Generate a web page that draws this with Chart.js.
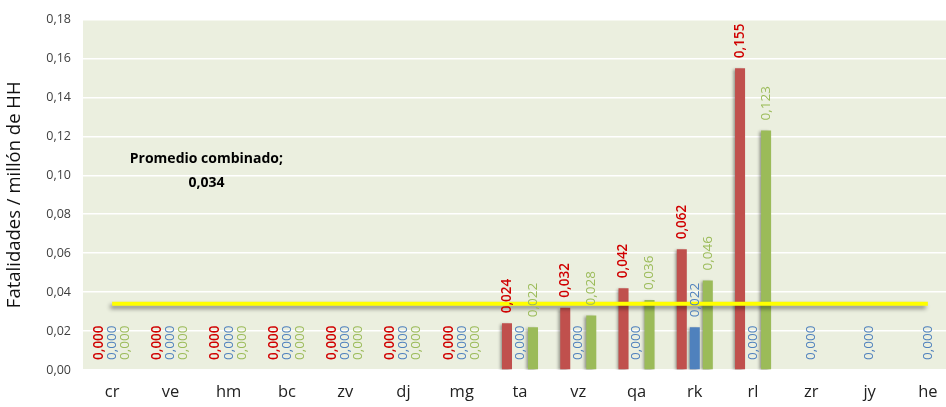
<!DOCTYPE html>
<html>
<head>
<meta charset="utf-8">
<script src="https://cdn.jsdelivr.net/npm/chart.js@4"></script>
<style>
  html, body { margin: 0; padding: 0; background: #fff; overflow: hidden; }
  #wrap { width: 946px; height: 407px; overflow: hidden; }
  #box { width: 957px; height: 407px; }
</style>
</head>
<body>
<div id="wrap"><div id="box"><canvas id="chart"></canvas></div></div>
<script>
const categories = ['cr', 've', 'hm', 'bc', 'zv', 'dj', 'mg', 'ta', 'vz', 'qa', 'rk', 'rl', 'zr', 'jy', 'he'];
const redValues   = [0, 0, 0, 0, 0, 0, 0, 0.024, 0.032, 0.042, 0.062, 0.155, null, null, null];
const blueValues  = [0, 0, 0, 0, 0, 0, 0, 0, 0, 0, 0.022, 0, 0, 0, 0];
const greenValues = [0, 0, 0, 0, 0, 0, 0, 0.022, 0.028, 0.036, 0.046, 0.123, null, null, null];
const averageValue = 0.034;
const averageLine = categories.map(() => averageValue);
const yTicks = [0, 0.02, 0.04, 0.06, 0.08, 0.10, 0.12, 0.14, 0.16, 0.18];

const fmt = (v, d) => v.toFixed(d).replace('.', ',');
const FONT = '"Open Sans", Lato, sans-serif';

// sombra para barras y linea
const shadowPlugin = {
  id: 'shadow',
  beforeDatasetDraw(chart, args) {
    const c = chart.ctx;
    c.save();
    if (args.meta.type === 'line') {
      c.shadowColor = 'rgba(0,0,0,0.45)';
      c.shadowBlur = 4;
      c.shadowOffsetX = -2;
      c.shadowOffsetY = 3;
    } else {
      c.shadowColor = 'rgba(0,0,0,0.4)';
      c.shadowBlur = 3;
      c.shadowOffsetX = -2;
      c.shadowOffsetY = 1;
    }
  },
  afterDatasetDraw(chart) {
    chart.ctx.restore();
  }
};

// etiquetas verticales sobre las barras
const labelPlugin = {
  id: 'barLabels',
  afterDatasetsDraw(chart) {
    const c = chart.ctx;
    chart.data.datasets.forEach((ds, i) => {
      if (ds.type === 'line') return;
      const meta = chart.getDatasetMeta(i);
      meta.data.forEach((bar, j) => {
        const v = ds.data[j];
        if (v === null || v === undefined) return;
        c.save();
        c.translate(bar.x, bar.y - 10);
        c.rotate(-Math.PI / 2);
        c.font = (ds.labelBold ? '600 ' : '') + '13.5px ' + FONT;
        c.fillStyle = ds.labelColor;
        c.textAlign = 'left';
        c.textBaseline = 'middle';
        c.fillText(fmt(v, 3), 0, 0);
        c.restore();
      });
    });
  }
};

// texto del promedio
const notePlugin = {
  id: 'note',
  afterDraw(chart) {
    const c = chart.ctx;
    const x = chart.scales.x.getPixelForValue(1) + 36;
    const y = chart.scales.y.getPixelForValue(0.1085);
    c.save();
    c.font = 'bold 14px ' + FONT;
    c.fillStyle = '#000';
    c.textAlign = 'center';
    c.textBaseline = 'middle';
    c.fillText('Promedio combinado;', x, y);
    c.fillText(fmt(averageValue, 3), x, y + 24);
    c.restore();
  }
};

const bgPlugin = {
  id: 'plotBg',
  beforeDraw(chart) {
    const a = chart.chartArea;
    const c = chart.ctx;
    c.save();
    c.fillStyle = '#EBEFDF';
    c.fillRect(a.left, a.top, a.right - a.left, a.bottom - a.top);
    c.restore();
  }
};

const barOpts = { categoryPercentage: 0.67, barPercentage: 0.77, order: 1 };

new Chart(document.getElementById('chart'), {
  data: {
    labels: categories,
    datasets: [
      { type: 'line', label: 'Promedio', data: averageLine, borderColor: '#FFFF00', borderWidth: 4,
        pointRadius: 0, fill: false, order: 0 },
      Object.assign({ type: 'bar', label: 'A', data: redValues, backgroundColor: '#C0504D',
        labelColor: '#D00000', labelBold: true }, barOpts),
      Object.assign({ type: 'bar', label: 'B', data: blueValues, backgroundColor: '#4F81BD',
        labelColor: '#4F81BD' }, barOpts),
      Object.assign({ type: 'bar', label: 'C', data: greenValues, backgroundColor: '#9BBB59',
        labelColor: '#9BBB59' }, barOpts)
    ]
  },
  options: {
    responsive: true,
    maintainAspectRatio: false,
    animation: false,
    layout: { padding: { top: 16, right: 0, left: 0, bottom: 0 } },
    plugins: {
      legend: { display: false },
      tooltip: { enabled: false }
    },
    scales: {
      x: {
        grid: { display: false, drawTicks: false },
        border: { display: false },
        ticks: { color: '#222', font: { family: FONT, size: 16.5 }, padding: 12, maxRotation: 0 },
        afterFit(scale) { scale.height = 37; }
      },
      y: {
        min: 0,
        max: 0.18,
        afterBuildTicks(scale) { scale.ticks = yTicks.map(v => ({ value: v })); },
        grid: { color: '#FFFFFF', lineWidth: 1.5, drawTicks: false },
        border: { display: false },
        ticks: { color: '#404040', font: { family: FONT, size: 12.5 }, padding: 12,
          callback: v => fmt(v, 2) },
        title: { display: true, text: 'Fatalidades / millón de HH', color: '#111',
          font: { family: FONT, size: 18.5 }, padding: { top: 4, bottom: 2 } },
        afterFit(scale) { scale.width = 83; }
      }
    }
  },
  plugins: [bgPlugin, shadowPlugin, labelPlugin, notePlugin]
});
</script>
</body>
</html>
